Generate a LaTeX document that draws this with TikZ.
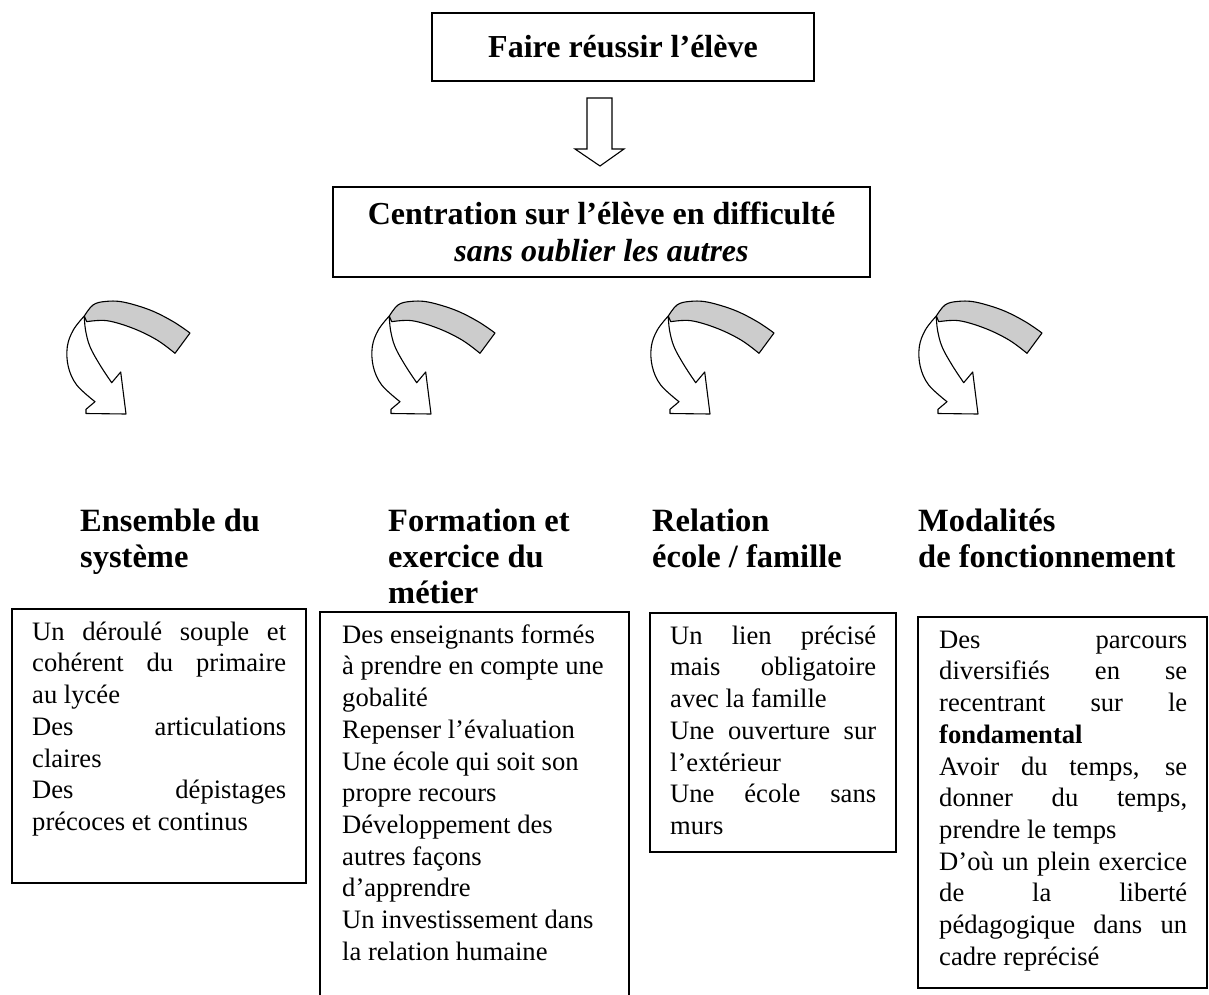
\documentclass[tikz,border=0pt]{standalone}
\usepackage{fontspec}
\setmainfont{Liberation Serif}
\newcommand\tstr[1]{\rule{0pt}{#1}}
\newcommand\jst[2]{\makebox[#1][s]{#2}}
\begin{document}
\begin{tikzpicture}[x=1pt,y=-1pt,
  box/.style={draw, line width=1.3pt, inner sep=0pt, outer sep=0pt, anchor=north west},
  title/.style={draw, line width=1.3pt, font=\fontsize{32}{37}\selectfont\bfseries, align=center, inner sep=0pt},
  head/.style={anchor=north west, inner sep=0pt, align=left, font=\fontsize{32.5}{36}\selectfont\bfseries},
  body/.style={anchor=north west, inner sep=0pt, align=left, font=\fontsize{26.6}{31.7}\selectfont},
  carrow/.style={line width=1.1pt, line join=round},
  curvearrow/.pic={
    \filldraw[fill=white, carrow] plot[smooth, tension=0.6] coordinates {(84.3,316) (73.3,330) (67.3,346.7) (68.3,366.7) (76.7,385) (95,401.7)}
      -- (86,409.3) -- (86,413.5) -- (126,414) -- (120.7,372) -- (111.7,382.7)
      -- plot[smooth, tension=0.6] coordinates {(111.7,382.7) (100,365) (90,346.7) (85.5,330) (84.3,316)} -- cycle;
    \filldraw[fill=black!20, carrow] plot[smooth, tension=0.6] coordinates {(84.3,316) (93,305) (105,301.5) (123,302) (150,310) (173,321.5) (190,333)}
      -- plot[smooth, tension=0.6] coordinates {(175,353.3) (157,340) (133,328.3) (107,320.7) (86.7,321.7)} -- cycle;
  }]
\useasboundingbox (0,0) rectangle (1209,995);
\clip (0,0) rectangle (1209,995);

% title boxes
\node[title, minimum width=382pt, minimum height=68pt] (top) at (623,47) {Faire réussir l’élève};
\node[title, minimum width=537pt, minimum height=90pt] (center) at (601.5,232)
  {Centration sur l’élève en difficulté\\\textit{sans oublier les autres}};

% block arrow
\filldraw[fill=white, line width=1.1pt, line join=miter] (587,98) -- (612,98) -- (612,149) -- (624,149)
  -- (600,166) -- (575,149) -- (587,149) -- cycle;

% curved arrows
\pic at (0,0) {curvearrow};
\pic at (305,0) {curvearrow};
\pic at (584,0) {curvearrow};
\pic at (852,0) {curvearrow};

% headings
\node[head] (h1) at (80,504) {\tstr{27pt}Ensemble du\\système};
\node[head] (h2) at (388,504) {\tstr{27pt}Formation et\\exercice du\\métier};
\node[head] (h3) at (652,504) {\tstr{27pt}Relation\\école / famille};
\node[head] (h4) at (918,504) {\tstr{27pt}Modalités\\de fonctionnement};

% boxes
\node[box, minimum width=294pt, minimum height=274pt] (b1) at (12,609) {};
\node[box, minimum width=309pt, minimum height=400pt] (b2) at (320,612) {};
\node[box, minimum width=246pt, minimum height=239pt] (b3) at (650,613) {};
\node[box, minimum width=289pt, minimum height=371pt] (b4) at (918,617) {};

\node[body] (t1) at ([xshift=20pt,yshift=-9pt]b1.north west) {%
\tstr{22pt}\jst{254pt}{Un déroulé souple et}\\
\jst{254pt}{cohérent du primaire}\\
au lycée\\
\jst{254pt}{Des articulations}\\
claires\\
\jst{254pt}{Des dépistages}\\
précoces et continus};

\node[body] (t2) at ([xshift=22pt,yshift=-9pt]b2.north west) {%
\tstr{22pt}Des enseignants formés\\
à prendre en compte une\\
gobalité\\
Repenser l’évaluation\\
Une école qui soit son\\
propre recours\\
Développement des\\
autres façons\\
d’apprendre\\
Un investissement dans\\
la relation humaine};

\node[body] (t3) at ([xshift=20pt,yshift=-9pt]b3.north west) {%
\tstr{22pt}\jst{206pt}{Un lien précisé}\\
\jst{206pt}{mais obligatoire}\\
avec la famille\\
\jst{206pt}{Une ouverture sur}\\
l’extérieur\\
\jst{206pt}{Une école sans}\\
murs};

\node[body] (t4) at ([xshift=21pt,yshift=-9pt]b4.north west) {%
\tstr{22pt}\jst{248pt}{Des parcours}\\
\jst{248pt}{diversifiés en se}\\
\jst{248pt}{recentrant sur le}\\
\textbf{fondamental}\\
\jst{248pt}{Avoir du temps, se}\\
\jst{248pt}{donner du temps,}\\
prendre le temps\\
\jst{248pt}{D’où un plein exercice}\\
\jst{248pt}{de la liberté}\\
\jst{248pt}{pédagogique dans un}\\
cadre reprécisé};
\end{tikzpicture}
\end{document}
